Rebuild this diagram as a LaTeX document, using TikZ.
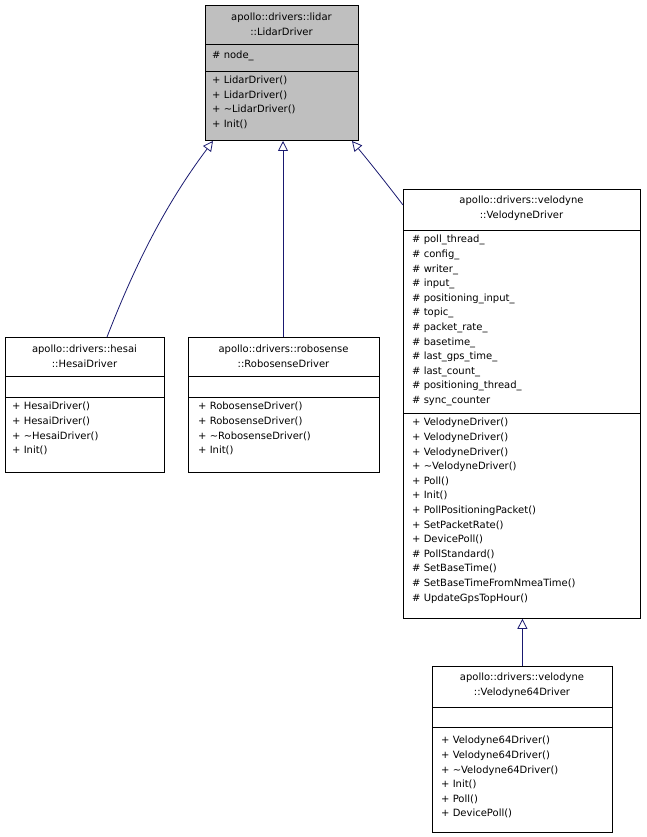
\documentclass[tikz,border=0pt]{standalone}
\usepackage{fontspec}
\setmainfont{DejaVu Sans}
\usetikzlibrary{arrows.meta}
\definecolor{edge}{HTML}{191970}
\begin{document}
\begin{tikzpicture}[x=1pt,y=-1pt,
  box/.style={draw=black,line width=0.8pt,inner sep=0,anchor=north west},
  ttl/.style={inner sep=0,align=center,font=\fontsize{10}{14.6}\selectfont},
  lst/.style={inner sep=0,align=left,anchor=north west,font=\fontsize{10}{14.6}\selectfont},
  inh/.style={draw=edge,line width=0.8pt,-{Triangle[open,length=10pt,width=10pt]}}]
\useasboundingbox (0,0) rectangle (646,837);
% LidarDriver
\node[box,fill=black!25,minimum width=153pt,minimum height=135pt] (lidar) at (205,5) {};
\draw (205,44) -- (358,44) (205,71) -- (358,71);
\node[ttl] (lidart) at (281.5,24) {apollo::drivers::lidar\\::LidarDriver};
\node[lst] (lidara) at (212,51) {\# node\_};
\node[lst] (lidarm) at (212,76) {+ LidarDriver()\\+ LidarDriver()\\+ \textasciitilde LidarDriver()\\+ Init()};
% Hesai
\node[box,fill=white,minimum width=159pt,minimum height=135pt] (hesai) at (5,337) {};
\draw (5,376) -- (164,376) (5,397) -- (164,397);
\node[ttl] (hesait) at (84.5,356) {apollo::drivers::hesai\\::HesaiDriver};
\node[lst] (hesaim) at (12,402) {+ HesaiDriver()\\+ HesaiDriver()\\+ \textasciitilde HesaiDriver()\\+ Init()};
% Robosense
\node[box,fill=white,minimum width=191pt,minimum height=135pt] (robo) at (188,337) {};
\draw (188,376) -- (379,376) (188,397) -- (379,397);
\node[ttl] (robot) at (283.5,356) {apollo::drivers::robosense\\::RobosenseDriver};
\node[lst] (robom) at (198,402) {+ RobosenseDriver()\\+ RobosenseDriver()\\+ \textasciitilde RobosenseDriver()\\+ Init()};
% Velodyne
\node[box,fill=white,minimum width=237pt,minimum height=429pt] (velo) at (403,189) {};
\draw (403,230) -- (640,230) (403,413) -- (640,413);
\node[ttl] (velot) at (521.5,208) {apollo::drivers::velodyne\\::VelodyneDriver};
\node[lst] (veloa) at (412,235) {\# poll\_thread\_\\\# config\_\\\# writer\_\\\# input\_\\\# positioning\_input\_\\\# topic\_\\\# packet\_rate\_\\\# basetime\_\\\# last\_gps\_time\_\\\# last\_count\_\\\# positioning\_thread\_\\\# sync\_counter};
\node[lst] (velom) at (412,418) {+ VelodyneDriver()\\+ VelodyneDriver()\\+ VelodyneDriver()\\+ \textasciitilde VelodyneDriver()\\+ Poll()\\+ Init()\\+ PollPositioningPacket()\\+ SetPacketRate()\\+ DevicePoll()\\\# PollStandard()\\\# SetBaseTime()\\\# SetBaseTimeFromNmeaTime()\\\# UpdateGpsTopHour()};
% Velodyne64
\node[box,fill=white,minimum width=180pt,minimum height=166pt] (v64) at (432,666) {};
\draw (432,707) -- (612,707) (432,727) -- (612,727);
\node[ttl] (v64t) at (522,685) {apollo::drivers::velodyne\\::Velodyne64Driver};
\node[lst] (v64m) at (441,736) {+ Velodyne64Driver()\\+ Velodyne64Driver()\\+ \textasciitilde Velodyne64Driver()\\+ Init()\\+ Poll()\\+ DevicePoll()};
% edges
\coordinate (h1) at (107,337); \coordinate (h2) at (213,141);
\coordinate (r1) at (283,337); \coordinate (r2) at (283,141);
\coordinate (w1) at (403,205); \coordinate (w2) at (352,141);
\path[inh] (h1) .. controls (135,265) and (165,205) .. (h2);
\path[inh] (r1) -- (r2);
\path[inh] (w1) .. controls (390,188) and (372,165) .. (w2);
\path[inh] (v64.north) -- (velo.south -| v64.north);
\end{tikzpicture}
\end{document}
